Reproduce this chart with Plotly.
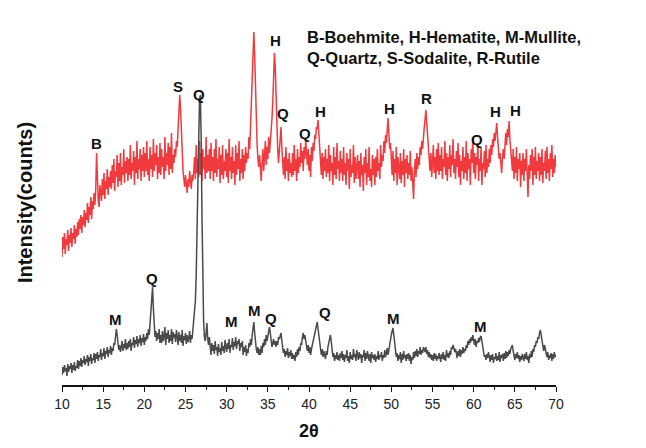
import numpy as np
import plotly.graph_objects as go

# 2-theta grid (degrees), step 0.1 from 10 to 70
two_theta = np.round(np.arange(10.0, 70.0001, 0.1), 1)

# Red mud intensity (arbitrary counts, offset for display)
red_mud = [
    128,148,136,152,131,146,140,155,134,150,142,157,138,152,146,160,141,156,148,163,
    150,166,156,170,152,168,160,175,158,172,165,182,162,178,170,188,166,184,176,192,
    180,196,232,204,185,178,200,192,184,206,190,212,186,204,196,216,190,208,198,214,
    196,220,202,226,194,214,208,230,198,222,204,232,200,218,210,236,202,224,212,228,
    204,226,210,240,206,222,214,234,200,228,212,244,206,226,216,236,204,230,214,238,
    208,232,214,244,210,226,204,238,216,230,208,246,214,232,220,240,206,228,212,242,
    210,236,218,228,206,248,214,232,220,242,210,238,216,252,212,230,222,236,228,244,
    238,256,272,290,276,252,232,214,206,198,210,200,192,206,198,214,202,196,210,204,
    214,228,206,240,212,226,208,244,210,232,204,236,216,228,206,248,212,230,214,236,
    206,242,214,228,204,236,212,246,208,226,216,238,202,230,210,240,206,224,214,236,
    208,232,202,246,214,228,206,238,212,224,200,240,210,232,216,244,204,226,212,236,
    206,230,214,238,222,232,226,248,236,262,270,298,320,353,330,290,262,240,226,218,
    230,212,204,222,236,214,228,244,220,238,226,248,232,242,256,266,282,300,332,318,
    282,252,236,222,232,246,258,238,224,210,228,206,238,214,226,204,232,212,222,208,
    232,210,240,214,226,204,236,212,228,218,242,222,234,214,238,226,245,232,220,236,
    214,230,208,238,224,242,234,250,246,258,256,265,248,236,226,210,232,206,228,214,
    236,208,226,212,240,204,230,214,222,200,238,210,228,206,242,216,224,204,234,212,
    226,204,238,210,222,200,232,214,226,196,236,208,220,212,240,202,228,206,218,230,
    206,224,198,232,210,220,194,228,212,236,200,222,208,238,204,216,198,230,210,226,
    200,228,208,236,214,222,206,240,218,230,224,244,232,250,242,256,267,252,236,242,
    222,210,234,204,226,212,238,200,228,214,206,232,202,224,210,236,198,226,212,230,
    206,222,210,234,204,218,196,186,214,226,208,232,216,228,220,238,230,244,236,252,
    258,266,275,262,248,238,226,214,232,208,222,240,212,228,206,236,214,242,210,230,
    214,238,206,226,218,244,210,232,204,228,216,240,208,230,220,246,212,226,206,234,
    218,242,208,230,200,224,214,238,206,228,212,244,204,232,216,226,200,236,222,246,
    212,232,206,228,220,242,204,226,214,238,200,222,216,234,208,240,212,226,218,236,
    222,240,230,246,238,252,244,256,262,248,238,226,232,218,212,228,236,226,246,252,
    240,256,248,264,246,232,222,214,236,206,228,212,238,204,226,216,232,198,224,210,
    232,204,226,214,236,212,188,220,206,230,214,236,200,228,210,238,206,224,214,232,
    204,228,210,236,202,222,214,234,206,238,212,226,204,232,216,240,208,226,212,230,
    218,
]

# Fly ash intensity (arbitrary counts)
fly_ash = [
    10,18,12,20,14,17,9,21,13,19,16,22,12,20,15,23,14,19,17,25,
    16,24,19,27,18,25,22,29,20,26,23,30,19,28,24,31,21,27,25,32,
    22,31,26,33,24,30,28,36,25,32,29,37,26,34,31,38,28,35,32,39,
    30,37,34,42,40,48,56,50,42,35,40,33,38,44,34,41,37,46,35,42,
    36,44,38,46,34,42,40,48,37,45,41,49,38,46,42,50,39,47,43,51,
    40,48,44,52,46,56,50,62,70,84,98,76,58,48,54,44,52,46,56,42,
    50,42,54,44,48,58,40,52,46,55,42,50,44,56,41,53,47,51,43,55,
    48,40,53,44,50,42,55,39,49,45,52,41,50,43,47,54,42,50,46,56,
    60,70,84,110,150,200,250,285,290,250,170,100,64,48,44,52,62,46,40,48,
    38,30,42,34,40,31,44,35,38,29,41,33,37,30,43,34,39,32,45,36,
    33,42,36,46,32,40,38,47,35,43,39,48,36,44,41,46,34,42,38,44,
    30,38,33,40,29,36,32,42,38,46,40,50,58,63,52,42,36,32,38,30,
    36,30,39,32,42,38,46,40,50,44,48,54,58,52,44,38,42,46,40,44,
    38,44,40,48,46,50,52,44,38,32,36,28,34,30,37,27,33,29,35,26,
    32,26,30,24,33,28,36,30,38,34,42,40,48,52,46,50,44,38,34,40,
    32,38,30,36,40,44,48,52,58,60,63,56,48,40,34,30,36,28,34,30,
    26,34,30,38,42,46,50,44,36,28,32,24,30,26,33,25,30,24,32,27,
    34,25,31,23,30,27,35,24,29,22,33,26,30,25,36,28,31,24,35,29,
    25,33,27,31,22,30,28,35,24,32,26,34,28,24,31,22,33,27,30,25,
    31,23,29,26,34,25,30,28,33,24,30,27,35,28,32,37,30,36,40,46,
    50,54,57,50,42,34,28,32,24,30,26,33,22,31,25,34,27,30,24,31,
    26,32,24,30,21,28,25,33,27,34,29,36,28,34,31,38,30,35,32,38,
    36,33,38,31,35,28,33,27,31,25,30,24,32,26,31,24,29,26,32,27,
    23,31,26,33,25,30,24,35,28,32,27,34,30,38,36,40,37,33,36,30,
    27,34,29,36,28,35,31,38,32,36,34,40,37,44,40,46,42,48,44,50,
    44,40,46,38,44,42,47,43,48,49,44,38,32,28,30,25,31,27,33,26,
    23,30,25,31,22,28,26,32,24,29,25,33,23,30,27,31,24,32,26,34,
    27,33,29,35,31,36,38,40,34,29,25,31,27,33,26,30,23,29,25,31,
    28,24,31,26,33,25,29,22,31,27,34,28,36,33,40,38,44,42,48,46,
    52,55,50,44,38,34,40,36,32,28,33,25,30,27,32,24,31,26,33,28,
    30,
]

assert len(red_mud) == len(two_theta), len(red_mud)
assert len(fly_ash) == len(two_theta), len(fly_ash)

# Phase labels: (letter, 2theta, intensity position)
red_labels = [
    ("B", 14.13, 242), ("S", 24.09, 299), ("Q", 26.64, 291),
    ("H", 33.32, 365), ("H", 35.99, 345), ("Q", 36.84, 272),
    ("Q", 39.51, 252), ("H", 41.34, 274), ("H", 49.72, 277),
    ("R", 54.21, 287), ("Q", 60.41, 246), ("H", 62.71, 274),
    ("H", 65.02, 275),
]
fly_labels = [
    ("M", 16.52, 66), ("Q", 20.93, 107), ("M", 30.53, 64),
    ("M", 33.44, 75), ("Q", 35.39, 67), ("Q", 41.94, 73),
    ("M", 50.24, 67), ("M", 60.85, 59),
]
legend_lines = ["B-Boehmite, H-Hematite, M-Mullite,",
                "Q-Quartz, S-Sodalite, R-Rutile"]
x_ticks = [10, 15, 20, 25, 30, 35, 40, 45, 50, 55, 60, 65, 70]

RED = "#F03A3E"
GRAY = "#4A4A4A"
FONT = "Arial, Liberation Sans, sans-serif"

fig = go.Figure()
fig.add_trace(go.Scatter(x=two_theta, y=red_mud, mode="lines",
                         line=dict(color=RED, width=1.5), showlegend=False))
fig.add_trace(go.Scatter(x=two_theta, y=fly_ash, mode="lines",
                         line=dict(color=GRAY, width=1.5), showlegend=False))

ann = []
for t, x, y in red_labels + fly_labels:
    ann.append(dict(x=x, y=y, text="<b>%s</b>" % t, showarrow=False,
                    xanchor="center", yanchor="middle",
                    font=dict(family=FONT, size=15, color="#111")))
ann.append(dict(x=70.97, y=219, text="<b>Red mud</b>", showarrow=False,
                xanchor="left", yanchor="middle",
                font=dict(family=FONT, size=16, color="#111")))
ann.append(dict(x=71.46, y=32, text="<b>Fly ash</b>", showarrow=False,
                xanchor="left", yanchor="middle",
                font=dict(family=FONT, size=16, color="#111")))
ann.append(dict(x=39.52, y=348, text="<b>%s</b>" % legend_lines[0], showarrow=False,
                xanchor="left", yanchor="middle",
                font=dict(family=FONT, size=16.5, color="#111")))
ann.append(dict(x=39.52, y=327, text="<b>%s</b>" % legend_lines[1], showarrow=False,
                xanchor="left", yanchor="middle",
                font=dict(family=FONT, size=16.5, color="#111")))
ann.append(dict(xref="paper", yref="paper", x=-0.075, y=0.508,
                xanchor="center", yanchor="middle",
                text="<b>Intensity(counts)</b>", textangle=-90, showarrow=False,
                font=dict(family=FONT, size=20, color="#111")))
ann.append(dict(xref="paper", yref="paper", x=0.5, y=-0.128,
                xanchor="center", yanchor="middle",
                text="<b>2θ</b>", showarrow=False,
                font=dict(family=FONT, size=18, color="#111")))

fig.update_layout(
    width=646, height=448,
    margin=dict(l=62, r=90, t=25, b=63),
    paper_bgcolor="white", plot_bgcolor="white",
    annotations=ann,
    xaxis=dict(range=[10, 70], tickvals=x_ticks, ticks="outside", ticklen=5,
               tickwidth=1.3, tickcolor="#111", showline=True, linecolor="#111",
               linewidth=1.5, showgrid=False, zeroline=False,
               tickfont=dict(family=FONT, size=14, color="#222"),
               minor=dict(dtick=2.5, tick0=10, ticks="outside", ticklen=3,
                          tickcolor="#111", tickwidth=1.2)),
    yaxis=dict(range=[0, 360], showticklabels=False, showline=False,
               showgrid=False, zeroline=False, ticks=""),
)

fig.write_html("out.html")
